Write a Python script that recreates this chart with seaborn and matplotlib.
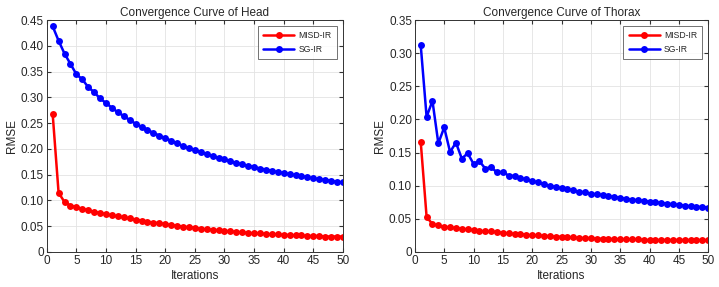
import numpy as np
import pandas as pd
import matplotlib
matplotlib.use("Agg")
import matplotlib.pyplot as plt
import seaborn as sns

# ================= data =================
iterations = list(range(1, 51))

head_misd = [0.268, 0.115, 0.097, 0.090, 0.087, 0.084, 0.081, 0.078, 0.076, 0.073,
             0.071, 0.069, 0.067, 0.065, 0.063, 0.061, 0.059, 0.057, 0.056, 0.054,
             0.052, 0.051, 0.049, 0.048, 0.047, 0.045, 0.044, 0.043, 0.042, 0.041,
             0.040, 0.039, 0.038, 0.037, 0.036, 0.036, 0.035, 0.034, 0.034, 0.033,
             0.033, 0.032, 0.032, 0.031, 0.031, 0.031, 0.030, 0.030, 0.030, 0.030]
head_sg = [0.438, 0.410, 0.385, 0.365, 0.345, 0.335, 0.320, 0.310, 0.298, 0.289,
           0.280, 0.271, 0.264, 0.256, 0.249, 0.243, 0.237, 0.231, 0.226, 0.221,
           0.216, 0.211, 0.206, 0.202, 0.198, 0.194, 0.190, 0.186, 0.183, 0.180,
           0.176, 0.173, 0.170, 0.167, 0.165, 0.162, 0.160, 0.157, 0.155, 0.153,
           0.151, 0.149, 0.147, 0.145, 0.143, 0.141, 0.140, 0.138, 0.136, 0.135]

thorax_misd = [0.166, 0.053, 0.042, 0.040, 0.038, 0.037, 0.036, 0.035, 0.034, 0.033,
               0.032, 0.031, 0.031, 0.030, 0.029, 0.028, 0.027, 0.027, 0.026, 0.025,
               0.025, 0.024, 0.024, 0.023, 0.023, 0.022, 0.022, 0.021, 0.021, 0.021,
               0.020, 0.020, 0.020, 0.019, 0.019, 0.019, 0.019, 0.019, 0.018, 0.018,
               0.018, 0.018, 0.018, 0.018, 0.018, 0.018, 0.018, 0.018, 0.018, 0.018]
thorax_sg = [0.312, 0.204, 0.228, 0.164, 0.188, 0.151, 0.165, 0.141, 0.149, 0.133,
             0.137, 0.126, 0.128, 0.120, 0.121, 0.115, 0.115, 0.111, 0.110, 0.107,
             0.105, 0.102, 0.100, 0.098, 0.096, 0.095, 0.093, 0.091, 0.090, 0.088,
             0.087, 0.086, 0.084, 0.083, 0.082, 0.080, 0.079, 0.078, 0.077, 0.076,
             0.075, 0.074, 0.073, 0.072, 0.071, 0.070, 0.069, 0.068, 0.068, 0.067]

methods = ["MISD-IR", "SG-IR"]
colors = {"MISD-IR": "#ff0000", "SG-IR": "#0000ff"}


def make_df(misd, sg):
    return pd.DataFrame({
        "Iterations": iterations * 2,
        "RMSE": misd + sg,
        "Method": ["MISD-IR"] * len(misd) + ["SG-IR"] * len(sg),
    })


sns.set_style("whitegrid")
plt.rcParams["font.family"] = ["Liberation Sans", "DejaVu Sans"]

fig = plt.figure(figsize=(7.19, 2.87), dpi=100)
ax1 = fig.add_axes([0.065, 0.122, 0.412, 0.808])
ax2 = fig.add_axes([0.577, 0.122, 0.408, 0.808])

panels = [
    (ax1, make_df(head_misd, head_sg), "Convergence Curve of Head", 0.45),
    (ax2, make_df(thorax_misd, thorax_sg), "Convergence Curve of Thorax", 0.35),
]

for ax, df, title, ymax in panels:
    sns.lineplot(data=df, x="Iterations", y="RMSE", hue="Method", hue_order=methods,
                 palette=colors, marker="o", markersize=5, markeredgewidth=0,
                 linewidth=1.8, ax=ax)
    ax.set_xlim(0, 50)
    ax.set_ylim(0, ymax)
    ax.set_xticks(np.arange(0, 51, 5))
    ax.set_yticks(np.arange(0, ymax + 0.001, 0.05))
    ax.set_yticklabels(["0"] + [f"{v:.2f}" for v in np.arange(0.05, ymax + 0.001, 0.05)])
    ax.set_title(title, fontsize=8.5, pad=3)
    ax.set_xlabel("Iterations", fontsize=8.5, labelpad=2)
    ax.set_ylabel("RMSE", fontsize=8.5, labelpad=2)
    ax.tick_params(labelsize=8.5, direction="in", length=3, pad=2,
                   top=True, right=True, bottom=True, left=True, color="#333333")
    ax.grid(True, color="#e3e3e3", linewidth=0.6)
    for s in ax.spines.values():
        s.set_color("#333333")
        s.set_linewidth(0.7)
    leg = ax.legend(loc="upper right", fontsize=6.2, frameon=True, fancybox=False,
                    borderaxespad=0.7, handlelength=3.6, borderpad=0.6,
                    labelspacing=0.5, handletextpad=0.5)
    leg.get_frame().set_edgecolor("#333333")
    leg.get_frame().set_linewidth(0.6)

fig.savefig("out.png", dpi=100)
